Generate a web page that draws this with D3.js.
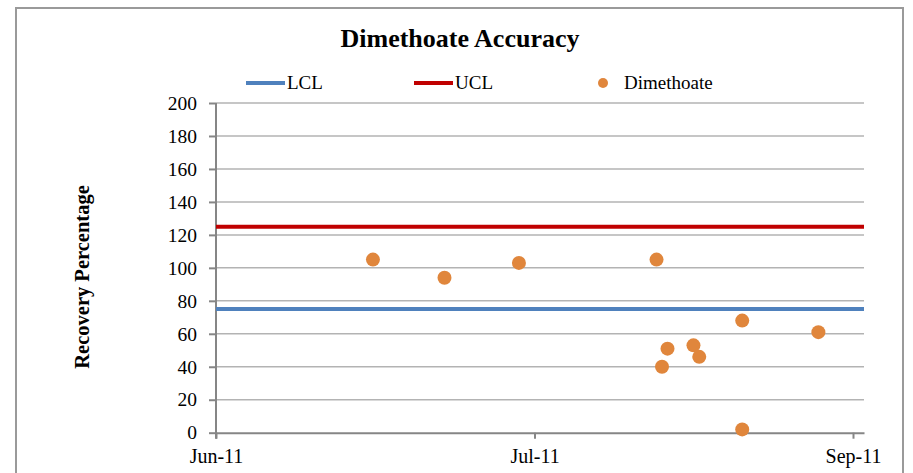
<!DOCTYPE html>
<html>
<head>
<meta charset="utf-8">
<script src="https://cdn.jsdelivr.net/npm/d3@7"></script>
<style>
  body { margin: 0; background: #fff; }
  text { font-family: "Liberation Serif", "DejaVu Serif", serif; fill: #000; }
</style>
</head>
<body>
<svg width="913" height="473"></svg>
<script>
// sample dates and recovery values
const sampleDates = ['2011-06-23T16:00', '2011-07-04T00:00', '2011-07-14T18:00', '2011-08-03T15:00',
  '2011-08-04T10:00', '2011-08-05T05:00', '2011-08-08T23:00', '2011-08-09T19:00',
  '2011-08-16T00:00', '2011-08-16T00:00', '2011-08-27T00:00'];
const recovery = [105, 94, 103, 105, 40, 51, 53, 46, 68, 2, 61];

const lcl = 75;
const ucl = 125;

const xTicks = ['2011-06-01', '2011-07-17', '2011-09-01'];
const yTicks = [0, 20, 40, 60, 80, 100, 120, 140, 160, 180, 200];

const parse = d3.timeParse('%Y-%m-%dT%H:%M');
const parseDay = d3.timeParse('%Y-%m-%d');

let svg = d3.select('svg');

// outer frame
svg.append('rect').attr('x', 16).attr('y', 8).attr('width', 887).attr('height', 480)
  .attr('fill', 'none').attr('stroke', '#9a9a9a').attr('stroke-width', 2);

let plotLeft = 216, plotRight = 864, plotTop = 103, plotBottom = 432.7;

// Excel put the ticks 46 days apart, 318.5px each
let start = parseDay('2011-06-01');
let end = new Date(+start + (plotRight - plotLeft) / 318.5 * 46 * 864e5);
let x = d3.scaleTime().domain([start, end]).range([plotLeft, plotRight]);

let y = d3.scaleLinear().domain([0, 200]).range([plotBottom, plotTop]);

// gridlines
svg.append('g').selectAll('line').data(yTicks.filter(d => d > 0)).join('line')
  .attr('x1', plotLeft).attr('x2', plotRight)
  .attr('y1', d => y(d)).attr('y2', d => y(d))
  .attr('stroke', '#b3b3b3').attr('stroke-width', 1.5);

// y axis
let yAxis = svg.append('g').attr('transform', `translate(${plotLeft},0)`)
  .call(d3.axisLeft(y).tickValues(yTicks).tickSize(7).tickPadding(12));
yAxis.select('.domain').attr('d', `M0,${plotTop}V${plotBottom + 6}`);
yAxis.selectAll('line, path').attr('stroke', '#868686').attr('stroke-width', 2);
yAxis.selectAll('text').attr('font-size', 19.5).attr('font-family', '"Liberation Serif", serif');

// x axis
let xAxis = svg.append('g').attr('transform', `translate(0,${plotBottom})`)
  .call(d3.axisBottom(x).tickValues(xTicks.map(parseDay)).tickFormat(d3.timeFormat('%b-%y'))
    .tickSize(6).tickSizeOuter(0).tickPadding(10));
xAxis.selectAll('line, path').attr('stroke', '#868686').attr('stroke-width', 2);
xAxis.selectAll('text').attr('font-size', 20).attr('font-family', '"Liberation Serif", serif');

// control limits
svg.append('line').attr('x1', plotLeft).attr('x2', plotRight).attr('y1', y(ucl)).attr('y2', y(ucl))
  .attr('stroke', '#c00000').attr('stroke-width', 4);
svg.append('line').attr('x1', plotLeft).attr('x2', plotRight).attr('y1', y(lcl)).attr('y2', y(lcl))
  .attr('stroke', '#4f81bd').attr('stroke-width', 4);

// points
svg.append('g').selectAll('circle').data(sampleDates).join('circle')
  .attr('cx', d => x(parse(d)))
  .attr('cy', (d, i) => y(recovery[i]))
  .attr('r', 7)
  .attr('fill', '#e0863c');

// title
svg.append('text').attr('x', 460).attr('y', 47).attr('text-anchor', 'middle')
  .attr('font-size', 26).attr('font-weight', 'bold').text('Dimethoate Accuracy');

// y title
svg.append('text').attr('transform', 'translate(89,277) rotate(-90)')
  .attr('text-anchor', 'middle').attr('font-size', 20.5).attr('font-weight', 'bold')
  .text('Recovery Percentage');

// legend
let legend = svg.append('g').attr('font-size', 19);
legend.append('line').attr('x1', 246).attr('x2', 285).attr('y1', 83).attr('y2', 83)
  .attr('stroke', '#4f81bd').attr('stroke-width', 4);
legend.append('text').attr('x', 287).attr('y', 89).text('LCL');
legend.append('line').attr('x1', 414).attr('x2', 453).attr('y1', 83).attr('y2', 83)
  .attr('stroke', '#c00000').attr('stroke-width', 4);
legend.append('text').attr('x', 455).attr('y', 89).text('UCL');
legend.append('circle').attr('cx', 603).attr('cy', 83).attr('r', 5).attr('fill', '#e0863c');
legend.append('text').attr('x', 624).attr('y', 89).text('Dimethoate');
</script>
</body>
</html>
